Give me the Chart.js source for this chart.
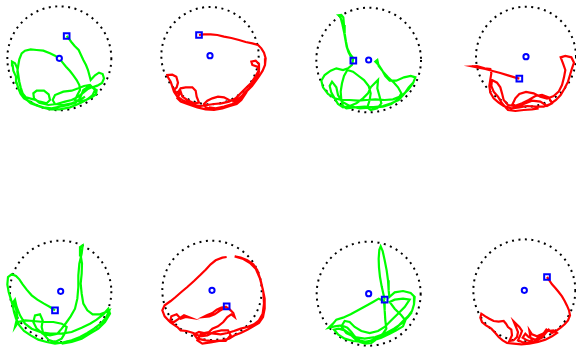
<!DOCTYPE html>
<html>
<head>
<meta charset="utf-8">
<script src="https://cdn.jsdelivr.net/npm/chart.js@4/dist/chart.umd.min.js"></script>
<style>
  html, body { margin: 0; padding: 0; background: #ffffff; }
  #wrap { position: relative; width: 576px; height: 347px; overflow: hidden; }
  #wrap canvas { position: absolute; }
</style>
</head>
<body>
<div id="wrap"></div>
<script>
// Tracked swim paths, 8 trials, in tracker-frame units (x right, y down).
const trial1 = [[200,108],[206,115],[214,126],[224,138],[236,150],[243,165],[250,180],[258,195],[264,210],[268,225],[272,240],[285,226],[297,218],[308,222],[312,235],[306,249],[292,257],[277,262],[262,262],[250,270],[244,285],[238,298],[226,308],[205,315],[180,320],[155,325],[130,322],[108,315],[90,305],[72,295],[62,282],[55,265],[50,248],[48,230],[40,212],[38,196],[36,185],[45,190],[52,205],[55,225],[58,245],[62,262],[68,280],[78,292],[100,298],[120,305],[140,310],[150,300],[146,283],[132,272],[110,272],[100,280],[102,295],[118,308],[145,315],[170,312],[195,305],[215,300],[235,290],[250,278],[262,268],[275,262],[290,270],[288,283],[275,292],[258,300],[240,305],[225,300],[232,285],[240,270],[238,255],[230,240],[220,226],[210,213],[198,200],[188,188],[178,176],[165,167],[150,160],[130,152],[110,150],[92,148],[75,152],[65,160],[58,178],[55,195],[52,215],[55,235],[60,255],[65,275],[75,295],[92,310],[120,320],[150,328],[180,328],[210,322],[240,310],[262,298],[278,285],[285,270],[270,255],[252,258],[235,265],[215,272],[190,275],[165,285],[158,300],[165,312],[190,315],[215,310],[240,300],[255,290]];
const trial2 = [[165,105],[180,103],[200,103],[220,105],[240,110],[262,114],[285,120],[305,126],[325,130],[342,135],[352,145],[360,158],[365,175],[363,195],[356,212],[346,228],[336,242],[324,258],[310,272],[298,284],[285,295],[270,303],[255,300],[240,292],[222,290],[205,295],[190,302],[180,312],[185,322],[205,328],[230,325],[255,318],[275,308],[288,295],[300,280],[315,265],[328,250],[338,232],[345,215],[340,200],[325,195],[322,185],[335,182],[345,192],[345,210],[335,228],[322,248],[305,265],[290,280],[275,295],[255,305],[232,310],[210,312],[190,315],[170,318],[150,315],[132,308],[115,300],[100,290],[90,275],[85,260],[80,245],[72,232],[70,225],[85,224],[97,230],[102,248],[98,262],[90,270],[100,280],[110,265],[125,262],[145,262],[155,272],[158,290],[165,308],[150,310],[130,300],[115,290],[110,275],[100,295],[110,305],[130,312],[160,322],[185,328],[210,330],[235,325],[258,318],[278,312],[292,300],[300,288],[285,298],[265,312],[240,320],[215,325],[195,322]];
const trial3 = [[196,182],[190,172],[182,158],[176,140],[172,118],[168,95],[163,72],[157,50],[152,46],[160,45],[166,52],[168,75],[170,100],[174,125],[178,145],[186,162],[196,175],[192,195],[180,205],[165,210],[145,205],[128,212],[110,225],[100,242],[105,262],[120,282],[140,295],[160,300],[185,300],[210,302],[235,300],[262,298],[290,300],[315,298],[340,288],[360,270],[375,250],[382,232],[368,228],[348,232],[325,242],[305,242],[292,228],[282,210],[272,195],[262,185],[268,180],[272,198],[285,215],[300,232],[318,248],[330,262],[340,280],[330,298],[310,312],[285,320],[258,322],[230,320],[200,322],[175,325],[165,318],[160,300],[158,275],[162,250],[168,228],[178,210],[195,215],[212,228],[228,240],[242,258],[248,280],[245,300],[238,322],[248,330],[268,325],[280,310],[275,290],[268,265],[270,240],[260,250],[248,262],[240,280],[225,295],[205,310],[185,318],[165,322],[150,312],[140,295],[130,278],[125,258],[132,245],[145,262],[150,285],[162,305],[185,318],[215,325],[250,322],[285,318],[310,310],[332,300],[350,280],[362,262],[378,245]];
const trial4 = [[262,236],[248,232],[228,226],[205,219],[182,213],[160,207],[140,203],[120,199],[135,198],[158,205],[175,207],[178,220],[175,238],[172,258],[175,278],[185,295],[200,308],[215,318],[238,325],[262,322],[285,318],[310,320],[335,320],[355,312],[372,300],[386,285],[398,265],[408,245],[414,225],[420,205],[426,188],[418,172],[400,168],[386,172],[393,190],[400,210],[396,232],[390,255],[380,275],[365,288],[345,296],[325,290],[305,280],[282,276],[262,282],[250,295],[242,312],[255,322],[275,312],[300,302],[325,305],[345,318],[360,310],[350,292],[330,285],[310,288],[290,300],[270,310],[248,318],[228,315],[215,300],[210,280],[205,262],[195,248],[180,240],[178,258],[185,275],[198,290],[210,310],[228,330],[250,333],[275,330],[300,328],[320,325]];
const trial5 = [[165,250],[150,240],[132,230],[112,218],[95,205],[80,188],[68,172],[58,157],[48,147],[35,142],[24,150],[22,172],[26,195],[32,215],[38,235],[42,255],[48,275],[58,295],[72,312],[92,325],[115,338],[140,345],[165,350],[190,346],[215,340],[240,330],[262,318],[282,305],[302,290],[318,272],[328,250],[318,255],[300,262],[278,262],[262,250],[250,230],[245,200],[242,170],[245,140],[246,110],[242,85],[240,60],[248,55],[245,80],[238,110],[235,145],[235,180],[232,215],[225,245],[212,268],[198,288],[185,305],[172,320],[150,325],[128,320],[110,305],[100,285],[105,265],[120,262],[128,280],[125,300],[130,320],[145,338],[165,345],[185,335],[195,318],[200,300],[185,290],[160,285],[130,285],[100,282],[75,280],[55,285],[45,300],[52,270],[48,245],[40,225],[45,218],[50,240],[60,265],[75,290],[95,305],[120,315],[150,320],[185,320],[215,315],[245,302],[270,290],[290,278],[310,262],[325,245],[330,260],[315,285],[295,305],[270,320],[245,335],[215,345],[185,350]];
const trial6 = [[248,238],[240,244],[226,252],[212,262],[196,268],[178,270],[190,264],[205,258],[218,248],[232,242],[246,240],[258,248],[268,258],[272,270],[262,262],[250,270],[238,285],[222,298],[205,305],[195,315],[180,318],[165,315],[150,322],[160,335],[185,340],[210,342],[235,340],[255,335],[272,325],[290,318],[310,308],[328,298],[345,288],[357,270],[362,245],[362,215],[356,185],[348,155],[335,125],[318,108],[298,96],[272,88],[290,92],[310,100],[328,112],[340,130],[350,160],[358,195],[360,230],[356,260],[345,280],[330,292],[310,300],[290,305],[270,312],[250,318],[230,322],[210,320],[190,318],[170,322],[160,340],[175,350],[200,346],[225,342],[245,342],[260,325],[252,310],[232,310],[210,315],[190,325],[168,328],[148,318],[128,312],[110,310],[100,300],[88,292],[78,285],[82,268],[98,262],[110,275],[125,270],[138,272],[120,265],[105,275],[90,285],[75,282],[62,268],[55,250],[62,235],[80,222],[95,210],[112,195],[130,180],[150,162],[168,145],[185,128],[200,112],[215,100],[235,92],[248,90]];
const trial7 = [[290,218],[286,200],[281,178],[276,150],[273,122],[272,95],[274,68],[278,58],[284,72],[290,100],[296,130],[300,160],[302,190],[304,210],[320,196],[345,192],[368,198],[380,210],[378,232],[372,252],[360,268],[345,282],[330,298],[312,312],[295,320],[275,330],[255,338],[235,345],[215,340],[200,328],[190,315],[178,302],[160,295],[140,298],[122,302],[135,290],[145,278],[165,272],[188,262],[210,250],[232,238],[255,225],[272,215],[288,222],[290,250],[292,280],[295,305],[285,320],[268,335],[250,348],[232,350],[215,345],[200,335],[185,320],[170,310],[152,305],[138,308],[150,322],[170,335],[195,342],[225,345],[255,340],[280,332],[305,320],[325,310],[345,298],[352,280],[340,265],[320,245],[305,225],[320,218],[345,215],[365,218],[350,240],[330,260],[310,280],[290,300],[270,312],[245,318],[220,312],[200,300],[185,285],[170,282],[160,298],[175,318],[200,330],[230,335],[262,330],[290,320],[318,305],[340,290],[360,270],[372,255]];
const trial8 = [[345,150],[352,160],[360,172],[370,183],[380,195],[390,208],[398,222],[405,236],[411,250],[414,265],[408,280],[398,292],[386,302],[372,312],[360,318],[350,308],[340,320],[330,332],[315,340],[300,346],[285,348],[270,345],[258,340],[265,325],[270,312],[262,300],[252,290],[245,283],[252,300],[258,315],[255,330],[245,340],[232,342],[240,325],[238,308],[228,300],[222,290],[215,282],[200,284],[185,282],[172,275],[160,268],[148,260],[145,272],[150,285],[162,295],[178,305],[190,318],[200,330],[212,340],[225,348],[245,350],[268,352],[292,350],[318,345],[340,338],[360,328],[375,318],[365,310],[348,312],[332,320],[315,328],[300,322],[292,310],[295,330],[302,345],[285,340],[272,332],[280,320],[290,330],[310,338],[325,328],[338,315],[345,305]];

const trialPaths = [trial1, trial2, trial3, trial4, trial5, trial6, trial7, trial8];
// Arena centre and radius per trial (tracker-frame units)
const arenaCenters = [[178,175],[198,167],[242,180],[282,170],[182,193],[204,190],[242,200],[277,190]];
const arenaRadii = [156, 146, 157, 150, 152, 149, 156, 153];
// Trial outcome group: 'hit' paths in green, 'miss' paths in red
const trialGroups = ['hit','miss','hit','miss','hit','miss','hit','miss'];

// Styling
const groupColors = { hit: '#00ff00', miss: '#ff0000' };
const markerColor = '#0000ff';
const FRAME_W = 432, FRAME_H = 360;   // tracker frame extent
const PANEL_W = 144, PANEL_H = 120;   // canvas size per panel
const panelLeft = [0, 144, 288, 432, 0, 144, 288, 432];
const panelTop = [0, 0, 0, 0, 227, 227, 227, 227];

// Dotted arena outline drawn through the chart's own scales
const arenaPlugin = {
  id: 'arena',
  beforeDatasetsDraw(chart, args, opts) {
    const xs = chart.scales.x, ys = chart.scales.y;
    const cx = xs.getPixelForValue(opts.center[0]);
    const cy = ys.getPixelForValue(opts.center[1]);
    const r = Math.abs(xs.getPixelForValue(opts.center[0] + opts.radius) - cx);
    const ctx = chart.ctx;
    ctx.save();
    ctx.beginPath();
    ctx.setLineDash([2, 4.5]);
    ctx.lineWidth = 2;
    ctx.strokeStyle = '#000000';
    ctx.arc(cx, cy, r, 0, Math.PI * 2);
    ctx.stroke();
    ctx.restore();
  }
};

const wrap = document.getElementById('wrap');
trialPaths.forEach((path, i) => {
  const canvas = document.createElement('canvas');
  canvas.width = PANEL_W;
  canvas.height = PANEL_H;
  canvas.style.left = panelLeft[i] + 'px';
  canvas.style.top = panelTop[i] + 'px';
  canvas.style.width = PANEL_W + 'px';
  canvas.style.height = PANEL_H + 'px';
  wrap.appendChild(canvas);

  const pts = path.map(p => ({ x: p[0], y: p[1] }));
  const color = groupColors[trialGroups[i]];

  new Chart(canvas, {
    type: 'scatter',
    data: {
      datasets: [
        {
          label: 'centre',
          data: [{ x: arenaCenters[i][0], y: arenaCenters[i][1] }],
          pointStyle: 'circle',
          pointRadius: 2.6,
          borderWidth: 2,
          borderColor: markerColor,
          backgroundColor: '#ffffff',
          order: 0
        },
        {
          label: 'start',
          data: [pts[0]],
          pointStyle: 'rect',
          pointRadius: 4,
          borderWidth: 2,
          borderColor: markerColor,
          backgroundColor: 'rgba(0,0,0,0)',
          order: 1
        },
        {
          label: 'path',
          data: pts,
          showLine: true,
          borderColor: color,
          borderWidth: 2.2,
          pointRadius: 0,
          tension: 0,
          order: 2
        }
      ]
    },
    options: {
      responsive: false,
      animation: false,
      devicePixelRatio: 1,
      layout: { padding: 0, autoPadding: false },
      events: [],
      scales: {
        x: { type: 'linear', min: 0, max: FRAME_W, display: false },
        y: { type: 'linear', min: 0, max: FRAME_H, reverse: true, display: false }
      },
      plugins: {
        legend: { display: false },
        tooltip: { enabled: false },
        arena: { center: arenaCenters[i], radius: arenaRadii[i] }
      }
    },
    plugins: [arenaPlugin]
  });
});
</script>
</body>
</html>
